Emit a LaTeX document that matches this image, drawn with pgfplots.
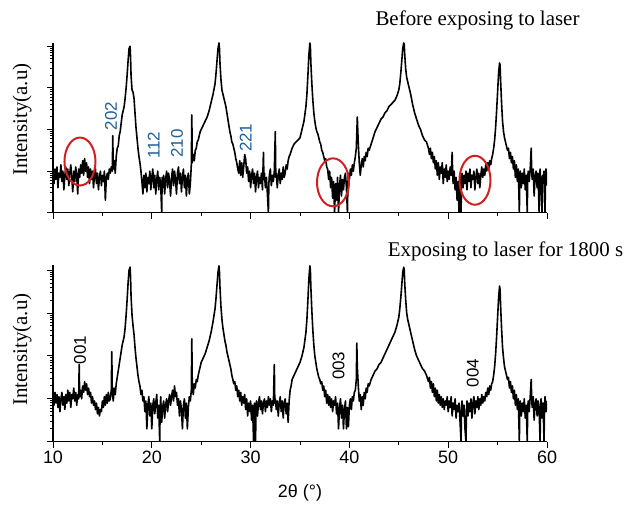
\documentclass[border=0pt]{standalone}
\usepackage{fontspec}
\setmainfont{Liberation Serif}
\setsansfont{Liberation Sans}
\usepackage{pgfplots}
\usepackage{pgfplotstable}
\pgfplotsset{compat=1.18}

\definecolor{hklblue}{HTML}{1F5F99}
\definecolor{circred}{HTML}{D02020}

% intensity as log10(counts), 2theta in degrees
\pgfplotstableread{
x L
10.0 0.95
10.1 0.70
10.2 1.05
10.3 0.80
10.4 1.10
10.5 0.60
10.6 0.95
10.7 0.85
10.8 1.15
10.9 0.75
11.0 1.00
11.1 0.55
11.2 0.90
11.3 1.10
11.4 0.80
11.5 1.05
11.6 0.65
11.7 0.95
11.8 1.15
11.9 0.85
12.0 0.50
12.1 1.00
12.2 0.75
12.3 1.10
12.4 0.90
12.5 0.45
12.6 1.05
12.7 0.85
12.8 1.15
12.9 0.95
13.0 1.25
13.1 0.90
13.2 1.30
13.3 1.00
13.4 1.20
13.5 0.85
13.6 1.10
13.7 0.70
13.8 1.05
13.9 0.80
14.0 1.00
14.1 0.60
14.2 0.90
14.3 1.05
14.4 0.70
14.5 0.95
14.6 0.55
14.7 0.85
14.8 1.00
14.9 0.65
15.0 0.90
15.1 0.75
15.2 1.00
15.3 0.30
15.4 0.85
15.5 0.95
15.6 0.80
15.7 1.05
15.8 0.95
15.9 1.10
16.0 1.00
16.05 1.85
16.1 1.05
16.2 1.25
16.3 0.95
16.4 1.35
16.5 1.55
16.6 1.60
16.7 1.85
16.8 1.95
16.9 2.15
17.0 2.35
17.1 2.45
17.2 2.55
17.3 2.75
17.4 3.00
17.5 3.30
17.6 3.65
17.7 3.95
17.8 4.00
17.85 3.75
17.9 3.30
18.0 2.95
18.1 2.90
18.2 2.75
18.3 2.40
18.4 2.05
18.5 1.80
18.6 1.55
18.7 1.35
18.8 1.20
18.9 1.00
19.0 0.75
19.1 0.45
19.2 0.90
19.3 0.60
19.4 0.95
19.5 0.50
19.6 0.85
19.7 0.70
19.8 1.00
19.9 0.55
20.0 0.85
20.1 1.05
20.2 0.60
20.3 0.90
20.4 0.45
20.5 0.80
20.6 1.00
20.7 0.55
20.8 0.85
20.9 0.70
21.0 0.00
21.05 0.85
21.1 0.60
21.2 0.90
21.3 0.45
21.4 0.80
21.5 1.00
21.6 0.60
21.7 0.95
21.8 0.75
21.9 0.40
22.0 0.85
22.1 1.05
22.2 0.65
22.3 1.00
22.4 0.80
22.5 0.45
22.6 0.95
22.7 1.10
22.8 0.70
22.9 0.95
23.0 0.50
23.1 0.85
23.2 1.05
23.3 0.60
23.4 0.90
23.5 0.40
23.6 0.80
23.7 0.95
23.8 0.45
23.9 0.70
24.0 1.15
24.05 2.35
24.1 1.20
24.2 1.40
24.3 1.25
24.4 1.50
24.5 1.55
24.6 1.70
24.7 1.75
24.8 1.85
24.9 1.95
25.0 2.00
25.2 2.10
25.4 2.20
25.6 2.30
25.8 2.45
26.0 2.65
26.2 2.85
26.4 3.10
26.5 3.35
26.6 3.65
26.7 3.95
26.8 4.08
26.85 3.95
26.9 3.60
27.0 3.20
27.1 2.95
27.2 2.85
27.3 2.75
27.4 2.65
27.5 2.55
27.6 2.40
27.7 2.25
27.8 2.10
27.9 1.95
28.0 1.85
28.1 1.70
28.2 1.65
28.3 1.55
28.4 1.45
28.5 1.30
28.6 1.20
28.7 1.05
28.8 0.95
28.9 1.25
29.0 0.90
29.1 1.20
29.2 0.85
29.3 1.10
29.4 1.40
29.5 1.30
29.6 0.95
29.7 1.10
29.8 0.75
29.9 1.00
30.0 0.60
30.1 0.90
30.2 1.05
30.3 0.70
30.4 0.95
30.5 0.50
30.6 0.85
30.7 1.00
30.8 0.60
30.9 0.85
31.0 0.70
31.1 0.95
31.2 0.55
31.3 1.45
31.35 0.80
31.4 0.95
31.5 0.60
31.6 0.85
31.7 0.45
31.8 0.00
31.85 0.70
31.9 0.90
32.0 1.05
32.1 0.65
32.2 0.90
32.3 0.75
32.4 1.00
32.5 1.95
32.55 0.85
32.6 0.95
32.7 0.60
32.8 0.90
32.9 1.05
33.0 0.70
33.1 0.95
33.2 0.80
33.3 1.10
33.4 0.85
33.5 0.95
33.6 1.15
33.7 1.05
33.8 1.25
33.9 1.35
34.0 1.40
34.2 1.55
34.4 1.65
34.6 1.70
34.8 1.75
35.0 1.80
35.2 2.00
35.4 2.20
35.6 2.55
35.7 2.85
35.8 3.30
35.9 3.80
36.0 4.08
36.05 4.00
36.1 3.60
36.2 3.10
36.3 2.70
36.4 2.40
36.5 2.20
36.6 2.05
36.7 1.95
36.8 1.90
36.9 1.80
37.0 1.70
37.1 1.65
37.2 1.50
37.3 1.45
37.4 1.35
37.5 1.25
37.6 1.30
37.7 1.10
37.8 1.05
37.9 0.80
38.0 1.00
38.1 0.60
38.2 0.85
38.3 0.35
38.4 0.75
38.5 0.00
38.6 0.70
38.7 0.30
38.8 0.85
38.9 0.00
39.0 0.65
39.1 0.90
39.2 0.40
39.3 0.80
39.4 0.55
39.5 0.85
39.6 0.95
39.7 0.60
39.8 0.00
39.85 0.70
39.9 0.95
40.0 0.80
40.1 1.05
40.2 0.90
40.3 1.15
40.4 1.00
40.5 1.20
40.6 1.35
40.7 1.55
40.8 2.30
40.9 1.65
41.0 1.20
41.1 0.90
41.2 1.15
41.3 1.30
41.4 1.10
41.5 1.35
41.6 1.25
41.7 1.45
41.8 1.35
41.9 1.55
42.0 1.50
42.2 1.65
42.4 1.80
42.6 1.95
42.8 2.05
43.0 2.15
43.2 2.25
43.4 2.30
43.6 2.40
43.8 2.45
44.0 2.55
44.2 2.60
44.4 2.65
44.6 2.70
44.8 2.80
45.0 2.95
45.1 3.10
45.2 3.35
45.3 3.65
45.4 3.95
45.5 4.08
45.55 4.05
45.6 3.80
45.7 3.45
45.8 3.25
45.9 3.15
46.0 3.05
46.2 2.85
46.4 2.60
46.6 2.40
46.8 2.25
47.0 2.10
47.2 2.00
47.4 1.85
47.6 1.75
47.8 1.70
48.0 1.55
48.1 1.40
48.2 1.55
48.3 1.30
48.4 1.45
48.5 1.20
48.6 1.35
48.7 1.05
48.8 1.25
48.9 0.90
49.0 1.20
49.1 0.80
49.2 1.10
49.3 0.95
49.4 1.20
49.5 0.70
49.6 1.05
49.7 0.85
49.8 1.15
49.9 0.75
50.0 1.00
50.1 0.80
50.2 1.10
50.3 0.90
50.4 1.45
50.45 0.95
50.5 0.70
50.6 1.00
50.7 0.55
50.8 0.85
50.9 0.30
51.0 0.75
51.1 0.00
51.15 0.65
51.2 0.90
51.3 0.00
51.35 0.75
51.4 0.95
51.5 0.60
51.6 0.90
51.7 0.70
51.8 1.00
51.9 0.55
52.0 0.95
52.1 0.75
52.2 1.05
52.3 0.60
52.4 0.90
52.5 0.80
52.6 1.00
52.7 0.55
52.8 0.85
52.9 1.05
53.0 0.70
53.1 0.95
53.2 0.60
53.3 0.90
53.4 1.10
53.5 0.85
53.6 1.05
53.7 0.90
53.8 1.15
53.9 1.00
54.0 1.20
54.1 1.05
54.2 1.25
54.3 1.15
54.4 1.30
54.5 1.40
54.6 1.55
54.7 1.75
54.8 2.05
54.9 2.45
55.0 2.90
55.1 3.35
55.2 3.60
55.25 3.55
55.3 3.20
55.4 2.65
55.5 2.20
55.6 1.95
55.7 1.80
55.8 1.70
55.9 1.60
56.0 1.50
56.1 1.55
56.2 1.30
56.3 1.45
56.4 1.20
56.5 1.35
56.6 1.05
56.7 1.25
56.8 0.85
56.9 1.15
57.0 0.75
57.1 1.05
57.2 0.00
57.25 0.80
57.3 1.00
57.4 0.60
57.5 0.95
57.6 0.70
57.7 1.05
57.8 0.55
57.9 0.90
58.0 0.00
58.05 0.85
58.1 1.00
58.2 0.75
58.3 1.05
58.4 1.55
58.45 1.00
58.5 0.80
58.6 1.05
58.7 0.40
58.8 0.90
58.9 1.00
59.0 0.60
59.1 0.95
59.2 0.00
59.25 0.80
59.3 1.05
59.4 0.55
59.5 0.00
59.55 0.90
59.6 0.70
59.7 1.00
59.8 0.00
59.85 0.85
59.9 1.05
60.0 0.65
}\before

\pgfplotstableread{
x L
10.0 1.05
10.1 0.85
10.2 1.15
10.3 0.90
10.4 1.10
10.5 0.80
10.6 1.05
10.7 0.70
10.8 1.00
10.9 1.15
11.0 0.85
11.1 1.05
11.2 0.75
11.3 1.10
11.4 0.90
11.5 1.20
11.6 0.95
11.7 1.15
11.8 0.80
11.9 1.10
12.0 1.00
12.1 1.25
12.2 0.95
12.3 1.15
12.4 0.85
12.5 1.10
12.6 1.00
12.65 1.80
12.7 1.05
12.8 1.20
12.9 1.00
13.0 1.30
13.1 1.15
13.2 1.40
13.3 1.20
13.4 1.35
13.5 1.10
13.6 1.25
13.7 1.05
13.8 1.15
13.9 0.90
14.0 1.05
14.1 0.85
14.2 0.95
14.3 0.75
14.4 0.90
14.5 0.65
14.6 0.80
14.7 0.60
14.8 0.75
14.9 0.70
15.0 0.95
15.1 0.80
15.2 1.05
15.3 0.85
15.4 1.10
15.5 0.90
15.6 1.15
15.7 0.95
15.8 1.00
15.9 1.20
15.95 2.10
16.0 1.15
16.1 0.95
16.2 1.25
16.3 1.10
16.4 1.35
16.5 1.50
16.6 1.65
16.7 1.80
16.8 1.95
16.9 2.10
17.0 2.25
17.1 2.35
17.2 2.45
17.3 2.65
17.4 2.95
17.5 3.30
17.6 3.70
17.7 4.00
17.8 4.07
17.85 3.85
17.9 3.40
18.0 2.95
18.1 2.70
18.2 2.50
18.3 2.20
18.4 1.95
18.5 1.75
18.6 1.55
18.7 1.40
18.8 1.30
18.9 1.10
19.0 1.20
19.1 0.95
19.2 1.05
19.3 0.70
19.4 0.95
19.5 0.30
19.6 0.85
19.7 1.05
19.8 0.60
19.9 0.90
20.0 0.30
20.1 0.85
20.2 1.00
20.3 0.65
20.4 0.90
20.5 1.10
20.6 0.55
20.7 0.85
20.8 0.00
20.85 0.80
20.9 1.05
21.0 0.45
21.1 0.80
21.2 0.95
21.3 0.55
21.4 0.85
21.5 1.00
21.6 0.70
21.7 0.95
21.8 1.10
21.9 0.85
22.0 1.05
22.1 1.20
22.2 0.95
22.3 1.30
22.4 1.05
22.5 1.15
22.6 0.85
22.7 1.00
22.8 0.60
22.9 0.95
23.0 0.75
23.1 0.30
23.2 0.85
23.3 1.00
23.4 0.55
23.5 0.90
23.6 0.30
23.7 0.80
23.8 1.05
23.9 0.95
24.0 1.20
24.05 2.40
24.1 1.25
24.2 1.10
24.3 1.35
24.4 1.25
24.5 1.45
24.6 1.40
24.7 1.55
24.8 1.65
24.9 1.75
25.0 1.85
25.2 1.95
25.4 2.05
25.6 2.20
25.8 2.35
26.0 2.55
26.2 2.80
26.4 3.10
26.5 3.35
26.6 3.65
26.7 3.95
26.8 4.10
26.85 3.95
26.9 3.60
27.0 3.15
27.1 2.85
27.2 2.65
27.3 2.50
27.4 2.35
27.5 2.25
27.6 2.10
27.7 2.00
27.8 1.90
27.9 1.80
28.0 1.70
28.1 1.55
28.2 1.45
28.3 1.35
28.4 1.40
28.5 1.20
28.6 1.30
28.7 1.05
28.8 1.20
28.9 0.95
29.0 1.15
29.1 0.85
29.2 1.05
29.3 0.90
29.4 1.10
29.5 0.75
29.6 1.00
29.7 0.60
29.8 0.90
29.9 0.70
30.0 0.95
30.1 0.50
30.2 0.85
30.3 0.00
30.35 0.75
30.4 0.90
30.5 0.00
30.55 0.80
30.6 0.95
30.7 0.60
30.8 0.90
30.9 1.05
31.0 0.75
31.1 0.95
31.2 0.65
31.3 0.90
31.4 1.00
31.5 0.70
31.6 0.95
31.7 0.80
31.8 1.05
31.9 0.85
32.0 1.00
32.1 0.70
32.2 0.95
32.3 0.85
32.4 1.80
32.45 0.90
32.5 1.00
32.6 0.75
32.7 0.95
32.8 0.60
32.9 0.90
33.0 1.05
33.1 0.70
33.2 0.95
33.3 0.55
33.4 0.90
33.5 1.00
33.6 0.65
33.7 0.90
33.8 0.45
33.9 0.95
34.0 1.20
34.1 1.30
34.2 1.45
34.4 1.55
34.6 1.65
34.8 1.75
35.0 1.85
35.2 2.00
35.4 2.20
35.6 2.55
35.7 2.85
35.8 3.30
35.9 3.80
36.0 4.10
36.05 4.00
36.1 3.60
36.2 3.05
36.3 2.60
36.4 2.25
36.5 2.00
36.6 1.85
36.7 1.70
36.8 1.60
36.9 1.50
37.0 1.45
37.1 1.35
37.2 1.40
37.3 1.20
37.4 1.30
37.5 1.05
37.6 1.20
37.7 0.90
37.8 1.10
37.9 0.85
38.0 1.05
38.1 0.80
38.2 1.00
38.3 0.70
38.4 0.95
38.5 0.85
38.6 1.05
38.7 0.65
38.8 0.90
38.9 0.30
39.0 0.80
39.1 1.00
39.2 0.55
39.3 0.85
39.4 0.30
39.5 0.75
39.6 0.95
39.7 0.30
39.8 0.80
39.9 0.35
40.0 0.85
40.1 1.00
40.2 0.75
40.3 1.05
40.4 0.95
40.5 1.15
40.6 1.20
40.7 1.45
40.75 2.30
40.8 1.75
40.9 1.30
41.0 0.95
41.1 1.10
41.2 0.75
41.3 1.05
41.4 0.85
41.5 1.15
41.6 1.00
41.7 1.25
41.8 1.15
41.9 1.35
42.0 1.30
42.2 1.45
42.4 1.55
42.6 1.65
42.8 1.70
43.0 1.80
43.2 1.85
43.4 1.95
43.6 2.05
43.8 2.15
44.0 2.25
44.2 2.35
44.4 2.45
44.6 2.55
44.8 2.70
45.0 2.90
45.1 3.10
45.2 3.35
45.3 3.65
45.4 3.95
45.5 4.07
45.55 4.00
45.6 3.70
45.7 3.30
45.8 3.00
45.9 2.85
46.0 2.75
46.2 2.55
46.4 2.35
46.6 2.15
46.8 2.00
47.0 1.90
47.2 1.80
47.4 1.70
47.6 1.65
47.8 1.55
48.0 1.40
48.1 1.50
48.2 1.25
48.3 1.40
48.4 1.15
48.5 1.35
48.6 1.05
48.7 1.25
48.8 0.95
48.9 1.20
49.0 0.90
49.1 1.10
49.2 0.85
49.3 1.05
49.4 0.80
49.5 1.00
49.6 0.75
49.7 0.95
49.8 0.85
49.9 1.05
50.0 0.70
50.1 0.95
50.2 0.80
50.3 1.05
50.4 0.60
50.5 0.90
50.6 0.75
50.7 1.00
50.8 0.55
50.9 0.85
51.0 0.70
51.1 0.90
51.2 0.45
51.3 0.00
51.35 0.80
51.4 0.95
51.5 0.60
51.6 0.85
51.7 0.30
51.8 0.00
51.85 0.75
51.9 0.95
52.0 0.60
52.1 0.90
52.2 0.70
52.3 1.00
52.4 0.55
52.5 0.90
52.6 1.05
52.7 0.65
52.8 0.95
52.9 0.80
53.0 1.05
53.1 0.75
53.2 1.00
53.3 0.85
53.4 1.10
53.5 0.90
53.6 1.05
53.7 0.95
53.8 1.15
53.9 1.05
54.0 1.25
54.1 1.10
54.2 1.30
54.3 1.20
54.4 1.35
54.5 1.40
54.6 1.55
54.7 1.75
54.8 2.05
54.9 2.45
55.0 2.90
55.1 3.35
55.2 3.63
55.25 3.55
55.3 3.20
55.4 2.65
55.5 2.20
55.6 1.95
55.7 1.75
55.8 1.65
55.9 1.55
56.0 1.45
56.1 1.50
56.2 1.25
56.3 1.40
56.4 1.15
56.5 1.30
56.6 1.00
56.7 1.20
56.8 0.85
56.9 1.10
57.0 0.75
57.1 1.00
57.2 0.00
57.25 0.80
57.3 0.95
57.4 0.60
57.5 0.90
57.6 0.70
57.7 1.00
57.8 0.55
57.9 0.85
58.0 0.00
58.05 0.80
58.1 0.95
58.2 0.70
58.3 1.05
58.4 1.45
58.45 1.00
58.5 0.80
58.6 1.05
58.7 0.50
58.8 0.90
58.9 1.00
59.0 0.60
59.1 0.95
59.2 0.75
59.3 0.00
59.35 0.85
59.4 1.00
59.5 0.55
59.6 0.90
59.7 0.00
59.75 0.80
59.8 1.05
59.9 0.70
60.0 0.95
}\after

\pgfplotsset{
  xrdpanel/.style={
    scale only axis,
    width=494bp,
    xmin=10, xmax=60, ymin=0,
    axis x line*=bottom, axis y line*=left,
    axis line style={-, line width=1.1bp},
    tick style={line width=1bp, black},
    tick align=outside,
    major tick length=6bp, minor tick length=3.5bp,
    xtick={10,20,...,60}, minor xtick={15,25,...,55},
    ytick={0,1,2,3,4}, yticklabels={},
    minor ytick={0.301,0.477,0.602,0.699,0.778,0.845,0.903,0.954,
                 1.301,1.477,1.602,1.699,1.778,1.845,1.903,1.954,
                 2.301,2.477,2.602,2.699,2.778,2.845,2.903,2.954,
                 3.301,3.477,3.602,3.699,3.778,3.845,3.903,3.954},
    xticklabel style={font=\sffamily\fontsize{18}{18}\selectfont},
    /pgf/number format/assume math mode=true,
  },
  xrdline/.style={black, line width=1.6bp, line join=round},
}

\begin{document}
\begin{tikzpicture}
\useasboundingbox (0,0) rectangle (625bp,506bp);

% top panel: before exposure
\begin{axis}[xrdpanel, at={(53bp,293.3bp)}, anchor=south west,
  height=169.7bp, ymax=4.08, xticklabels={}]
\addplot[xrdline] table[x=x, y=L] {\before};
\begin{scope}[font=\sffamily\fontsize{17}{17}\selectfont, text=hklblue]
\node[rotate=90] at (axis cs:15.87,2.32) {202};
\node[rotate=90] at (axis cs:20.2,1.62) {112};
\node[rotate=90] at (axis cs:22.55,1.66) {210};
\node[rotate=90] at (axis cs:29.5,1.80) {221};
\end{scope}
\draw[circred, line width=2bp] (axis cs:12.73,1.23) ellipse [x radius=15.5bp, y radius=24bp];
\draw[circred, line width=2bp] (axis cs:38.34,0.73) ellipse [x radius=16bp, y radius=24bp];
\draw[circred, line width=2bp] (axis cs:52.71,0.78) ellipse [x radius=15.5bp, y radius=24.5bp];
\end{axis}

% bottom panel: after 1800 s of laser
\begin{axis}[xrdpanel, at={(53bp,64.3bp)}, anchor=south west,
  height=176.7bp, ymax=4.12]
\addplot[xrdline] table[x=x, y=L] {\after};
\begin{scope}[font=\sffamily\fontsize{17}{17}\selectfont]
\node[rotate=90] at (axis cs:12.73,2.14) {001};
\node[rotate=90] at (axis cs:38.9,1.77) {003};
\node[rotate=90] at (axis cs:52.5,1.60) {004};
\end{scope}
\end{axis}

\node[anchor=base, font=\fontsize{21}{21}\selectfont] at (477.5bp,480.3bp) {Before exposing to laser};
\node[anchor=base, font=\fontsize{21}{21}\selectfont] at (505.5bp,249.3bp) {Exposing to laser for 1800 s};
\node[rotate=90, font=\fontsize{21}{21}\selectfont] at (22bp,386.5bp) {Intensity(a.u)};
\node[rotate=90, font=\fontsize{21}{21}\selectfont] at (22bp,156.5bp) {Intensity(a.u)};
\node[font=\sffamily\fontsize{18}{18}\selectfont] at (300bp,13bp) {2θ (°)};
\end{tikzpicture}
\end{document}
